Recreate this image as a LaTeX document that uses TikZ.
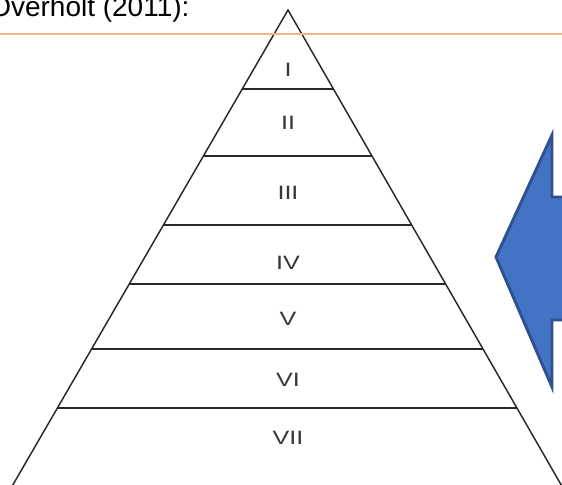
\documentclass[tikz,border=0pt]{standalone}
\usepackage{fontspec}
\setmainfont{Liberation Sans}
\usetikzlibrary{calc}
\definecolor{orangeline}{RGB}{244,177,131}
\definecolor{arrowfill}{RGB}{68,114,196}
\definecolor{arrowdraw}{RGB}{47,82,143}
\definecolor{pyrgray}{RGB}{40,40,40}
\definecolor{labelgray}{RGB}{55,55,55}

\begin{document}
\begin{tikzpicture}[x=0.75pt,y=-0.75pt,
    lvl/.style={font=\fontsize{14.5}{17}\selectfont, text=labelgray, inner sep=0pt}]
    \useasboundingbox (0,0) rectangle (562,485);
    % Titel oben links
    \node[anchor=base west, inner sep=0pt, font=\fontsize{21}{25}\selectfont] (title) at (-11,17) {Overholt (2011):};
    % Pyramide: Spitze und Fusspunkte
    \coordinate (apex) at (288,10);
    \coordinate (bl) at (7,495);
    \coordinate (br) at (567,495);
    \draw[pyrgray, line width=1.1pt] (bl) -- (apex) -- (br);
    % Trennlinien der Stufen
    \foreach \y in {89, 156, 225, 284, 349, 408} {
        \draw[pyrgray, line width=1.1pt] ($(apex)!{(\y-10)/485}!(bl)$) -- ($(apex)!{(\y-10)/485}!(br)$);
    }
    % Stufen beschriften
    \foreach \n/\t/\y in {1/I/70, 2/II/123, 3/III/193, 4/IV/263, 5/V/319, 6/VI/380, 7/VII/438} {
        \node[lvl] (l\n) at (288,\y) {\scalebox{1.3}[1]{\t}};
    }
    % orange Linie
    \draw[orangeline, line width=1.1pt] (0,34) -- (562,34);
    % Pfeil nach links
    \filldraw[fill=arrowfill, draw=arrowdraw, line width=2.2pt]
        (496,257) -- (552,135) -- (552,197) -- (575,197) -- (575,320) -- (552,320) -- (552,387) -- cycle;
\end{tikzpicture}
\end{document}
